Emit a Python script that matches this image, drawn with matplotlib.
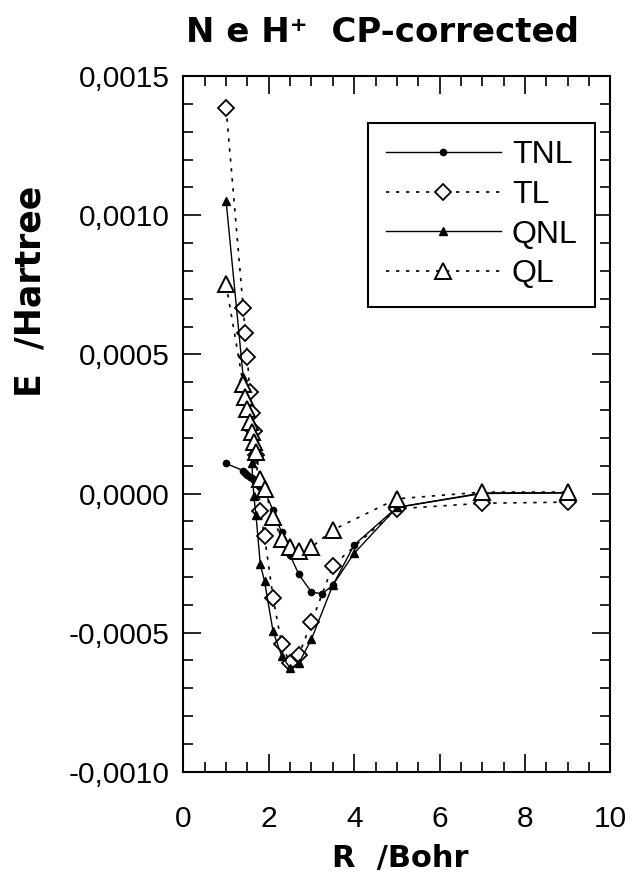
import matplotlib
matplotlib.use("Agg")
import matplotlib.pyplot as plt
from matplotlib.ticker import FuncFormatter, MultipleLocator

# NeH+ counterpoise-corrected interaction energies (Hartree) vs R (Bohr)
r_tnl = [1.0, 1.4, 1.45, 1.5, 1.55, 1.6, 1.65, 1.7, 1.75, 1.8, 1.9, 2.1, 2.3, 2.5,
         2.7, 3.0, 3.25, 3.5, 4.0, 5.0, 7.0, 9.0]
e_tnl = [1.08e-4, 8.2e-5, 7.5e-5, 6.8e-5, 6.1e-5, 5.4e-5, 4.7e-5, 4.0e-5, 3.1e-5, 2.2e-5,
         1.0e-5, -6.1e-5, -1.4e-4, -2.22e-4, -2.9e-4, -3.55e-4, -3.6e-4, -3.3e-4,
         -1.85e-4, -5.0e-5, 0.0, 2e-6]

r_tl = [1.0, 1.4, 1.45, 1.5, 1.55, 1.6, 1.65, 1.7, 1.8, 1.9, 2.1, 2.3, 2.5, 2.7,
        3.0, 3.5, 5.0, 7.0, 9.0]
e_tl = [1.384e-3, 6.67e-4, 5.77e-4, 4.9e-4, 3.66e-4, 2.9e-4, 2.24e-4, 1.4e-4, -6.4e-5,
        -1.54e-4, -3.75e-4, -5.41e-4, -6.11e-4, -5.81e-4, -4.63e-4, -2.59e-4,
        -5.5e-5, -3.5e-5, -3.1e-5]

r_qnl = [1.0, 1.4, 1.45, 1.5, 1.55, 1.6, 1.65, 1.7, 1.8, 1.9, 2.1, 2.3, 2.5, 2.7,
         3.0, 3.5, 4.0, 5.0, 7.0, 9.0]
e_qnl = [1.05e-3, 4.19e-4, 3.59e-4, 2.99e-4, 2.27e-4, 1.1e-4, -1.0e-5, -7.9e-5,
         -2.53e-4, -3.16e-4, -4.96e-4, -5.83e-4, -6.28e-4, -6.11e-4, -5.23e-4,
         -3.29e-4, -2.15e-4, -5.0e-5, 2e-6, 3e-6]

r_ql = [1.0, 1.4, 1.45, 1.5, 1.55, 1.6, 1.65, 1.7, 1.8, 1.9, 2.1, 2.3, 2.5, 2.7,
        3.0, 3.5, 5.0, 7.0, 9.0]
e_ql = [7.52e-4, 3.92e-4, 3.47e-4, 3.05e-4, 2.57e-4, 2.21e-4, 1.85e-4, 1.49e-4, 5.3e-5,
        1.7e-5, -8.5e-5, -1.65e-4, -1.92e-4, -2.08e-4, -1.93e-4, -1.31e-4,
        -1.9e-5, 5e-6, 5e-6]

x_ticks = [0, 2, 4, 6, 8, 10]
y_ticks = [-0.0010, -0.0005, 0.0, 0.0005, 0.0010, 0.0015]

fig = plt.figure(figsize=(6.37, 8.86), dpi=100)
ax = fig.add_axes([0.288, 0.129, 0.670, 0.785])

dash = (0, (2, 4))
ax.plot(r_tnl, e_tnl, color="black", linewidth=1.0, marker="o", markersize=4.5,
        markerfacecolor="black", markeredgecolor="black", label="TNL")
ax.plot(r_tl, e_tl, color="black", linewidth=1.2, linestyle=dash, marker="D",
        markersize=8.5, markerfacecolor="white", markeredgecolor="black",
        markeredgewidth=1.3, label="TL")
ax.plot(r_qnl, e_qnl, color="black", linewidth=1.0, marker="^", markersize=5.5,
        markerfacecolor="black", markeredgecolor="black", label="QNL")
ax.plot(r_ql, e_ql, color="black", linewidth=1.2, linestyle=dash, marker="^",
        markersize=11.5, markerfacecolor="white", markeredgecolor="black",
        markeredgewidth=1.4, label="QL")

ax.set_xlim(0, 10)
ax.set_ylim(-0.0010, 0.0015)
ax.set_xticks(x_ticks)
ax.set_yticks(y_ticks)
ax.xaxis.set_minor_locator(MultipleLocator(0.5))
ax.yaxis.set_minor_locator(MultipleLocator(0.0001))
ax.yaxis.set_major_formatter(FuncFormatter(lambda v, _: f"{round(v, 4):.4f}".replace(".", ",").replace("-0,0000", "0,0000")))

ax.tick_params(which="both", direction="in", top=True, right=True, width=1.2)
ax.tick_params(which="major", length=13)
ax.tick_params(which="minor", length=7)
ax.tick_params(axis="x", which="major", pad=24)
ax.tick_params(axis="y", which="major", pad=10)
for lab in ax.get_xticklabels() + ax.get_yticklabels():
    lab.set_fontfamily("Liberation Sans")
    lab.set_fontsize(21.5)

for spine in ax.spines.values():
    spine.set_edgecolor("black")
    spine.set_linewidth(1.5)

leg = ax.legend(loc="upper right", bbox_to_anchor=(0.965, 0.933), frameon=True,
                fancybox=False, edgecolor="black", framealpha=1, handlelength=3.6,
                handletextpad=0.35, borderpad=0.55, labelspacing=0.3,
                borderaxespad=0, prop={"family": "Liberation Sans", "size": 23})
leg.get_frame().set_linewidth(1.5)

fig.text(382 / 637, 1 - 33 / 886, "N e H\u207a  CP-corrected", ha="center", va="center",
         fontsize=24.5, fontweight="bold", family="DejaVu Sans")
fig.text(30 / 637, 1 - 291 / 886, "E  /Hartree", ha="center", va="center", rotation=90,
         fontsize=25, fontweight="bold", family="DejaVu Sans")
fig.text(400 / 637, 1 - 858 / 886, "R  /Bohr", ha="center", va="center",
         fontsize=22, fontweight="bold", family="DejaVu Sans")

fig.savefig("out.png", dpi=100)
